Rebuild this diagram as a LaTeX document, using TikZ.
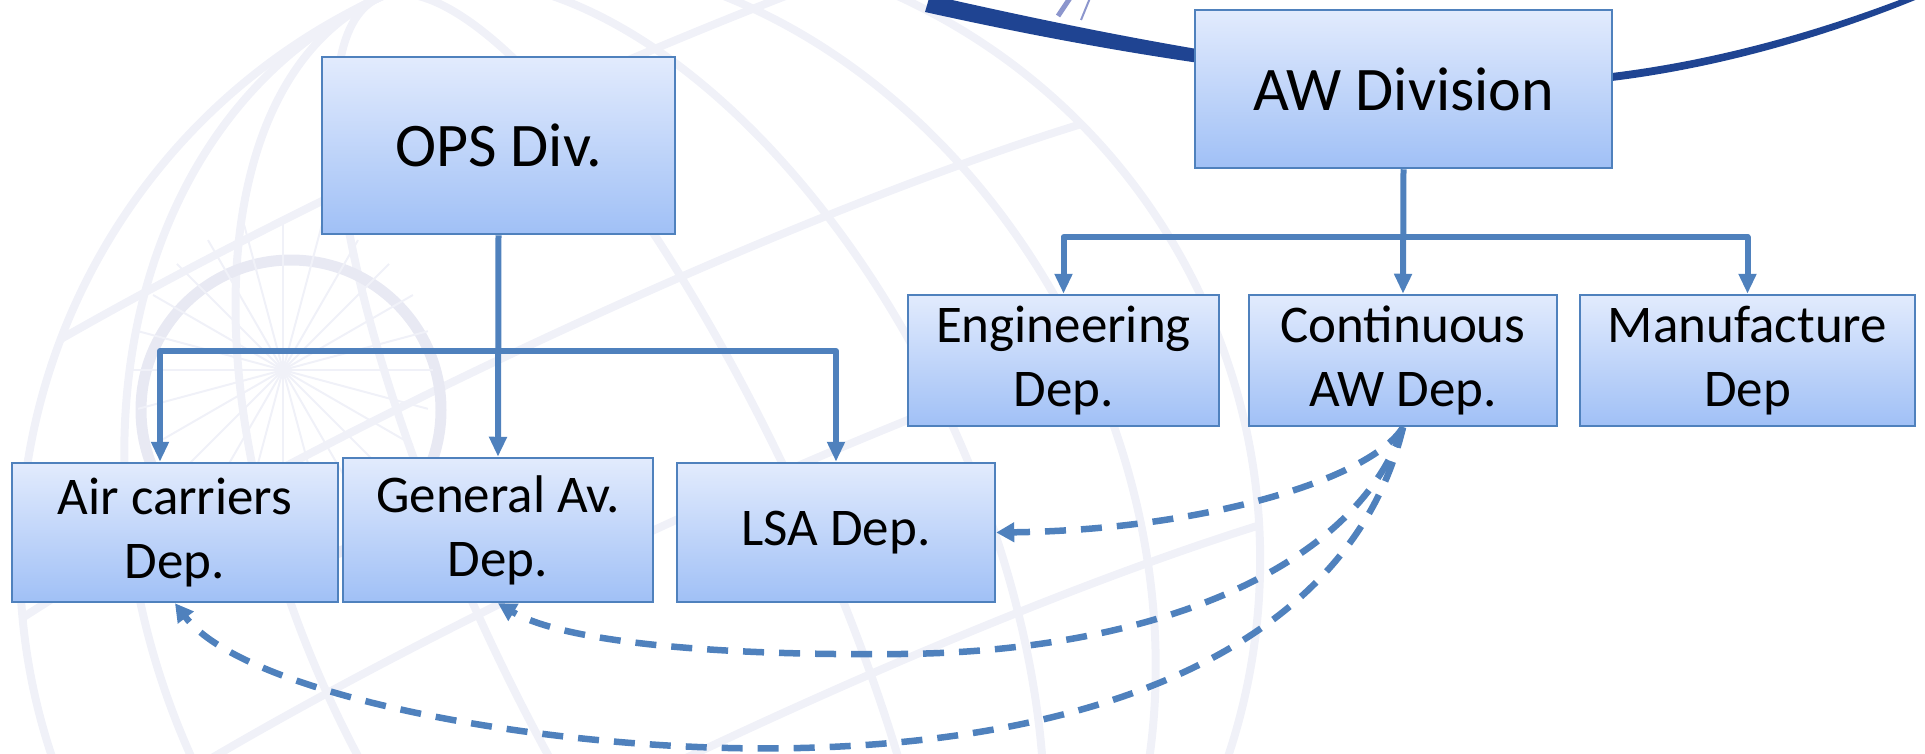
\documentclass[tikz,border=0pt]{standalone}
\usepackage{fontspec}
\setmainfont{Carlito}
\usetikzlibrary{arrows.meta}

\definecolor{boxline}{RGB}{79,129,189}
\definecolor{boxtop}{RGB}{226,235,253}
\definecolor{boxbot}{RGB}{160,192,246}
\definecolor{arcblue}{RGB}{31,68,146}
\definecolor{arclight}{RGB}{140,150,205}
\definecolor{globe}{RGB}{240,241,248}
\definecolor{globering}{RGB}{232,233,243}

\tikzset{
  dep/.style={draw=boxline, line width=2.5pt, top color=boxtop, bottom color=boxbot,
    align=center, inner sep=0pt, font=\fontsize{53}{64}\selectfont},
  division/.style={dep, font=\fontsize{62}{74}\selectfont},
  tree/.style={draw=boxline, line width=6pt, line join=round, >={Triangle[length=20pt,width=17pt]}},
  link/.style={draw=boxline, line width=6.5pt, dash pattern=on 21pt off 15pt,
    -{Triangle[length=18pt,width=19pt]}},
  globe lines/.style={draw=globe, line width=8pt}
}

\begin{document}
\begin{tikzpicture}[x=1pt, y=-1pt]
\useasboundingbox (0,0) rectangle (1925,753);

% faint globe behind the chart
\begin{scope}
\clip (0,0) rectangle (1925,753);
\begin{scope}[rotate around={25:(640,560)}]
\draw[globe lines] (640,560) circle [radius=620];
\foreach \r in {170,340,490}
  \draw[globe lines] (640,560) ellipse [x radius=\r, y radius=620];
\clip (640,560) circle [radius=620];
\foreach \h in {-420,-200,20,240}
  \draw[globe lines] (0,560+\h) .. controls (320,505+\h) and (960,505+\h) .. (1280,560+\h);
\end{scope}
\draw[globering, line width=11pt] (291,410) circle [radius=150];
\foreach \a in {0,15,...,345}
  \draw[globe, line width=2pt] (283,370) -- ++(\a:150);
\end{scope}

% dark arc at the top
\fill[arcblue] (930,-5) .. controls (1150,45) and (1350,80) .. (1500,80)
  .. controls (1650,80) and (1800,40) .. (1925,-10) -- (1925,-4)
  .. controls (1800,48) and (1650,88) .. (1500,88)
  .. controls (1350,88) and (1150,62) .. (925,12) -- cycle;
\draw[arclight, line width=5pt] (1070,-2) -- (1058,16);
\draw[arclight, line width=2pt] (1090,-2) -- (1081,20);

% divisions
\node[division, minimum width=353, minimum height=177] (ops) at (498.5,145.5) {OPS Div.};
\node[division, minimum width=417, minimum height=158] (aw) at (1403.5,89) {AW Division};

% departments
\node[dep, minimum width=311, minimum height=131] (eng) at (1063.5,360.5) {Engineering\\Dep.};
\node[dep, minimum width=308, minimum height=131] (caw) at (1403,360.5) {Continuous\\AW Dep.};
\node[dep, minimum width=335, minimum height=131] (man) at (1747.5,360.5) {Manufacture\\Dep};
\node[dep, minimum width=326, minimum height=139] (ac) at (175,532.5) {Air carriers\\Dep.};
\node[dep, minimum width=310, minimum height=144] (ga) at (498,530) {General Av.\\Dep.};
\node[dep, minimum width=318, minimum height=139] (lsa) at (836,532.5) {LSA Dep.};

% tree connectors
\coordinate (opsl) at (160,351);
\coordinate (opsr) at (836,351);
\draw[tree,->] (ops.south) -- (ga.north);
\draw[tree,<->] (opsl |- ac.north) -- (opsl) -- (opsr) -- (opsr |- lsa.north);

\coordinate (awl) at (1063.5,237);
\coordinate (awr) at (1747.5,237);
\draw[tree,->] (aw.south) -- (caw.north);
\draw[tree,<->] (awl |- eng.north) -- (awl) -- (awr) -- (awr |- man.north);

% dashed links
\draw[link] (caw.south) .. controls (1370,480) and (1200,530) .. (lsa.east);
\draw[link] (caw.south) .. controls (1355,570) and (1150,652) .. (900,654)
  .. controls (700,656) and (560,640) .. (ga.south);
\draw[link] (caw.south) .. controls (1355,630) and (1130,740) .. (800,748)
  .. controls (560,754) and (246,697) .. (ac.south);
\end{tikzpicture}
\end{document}
